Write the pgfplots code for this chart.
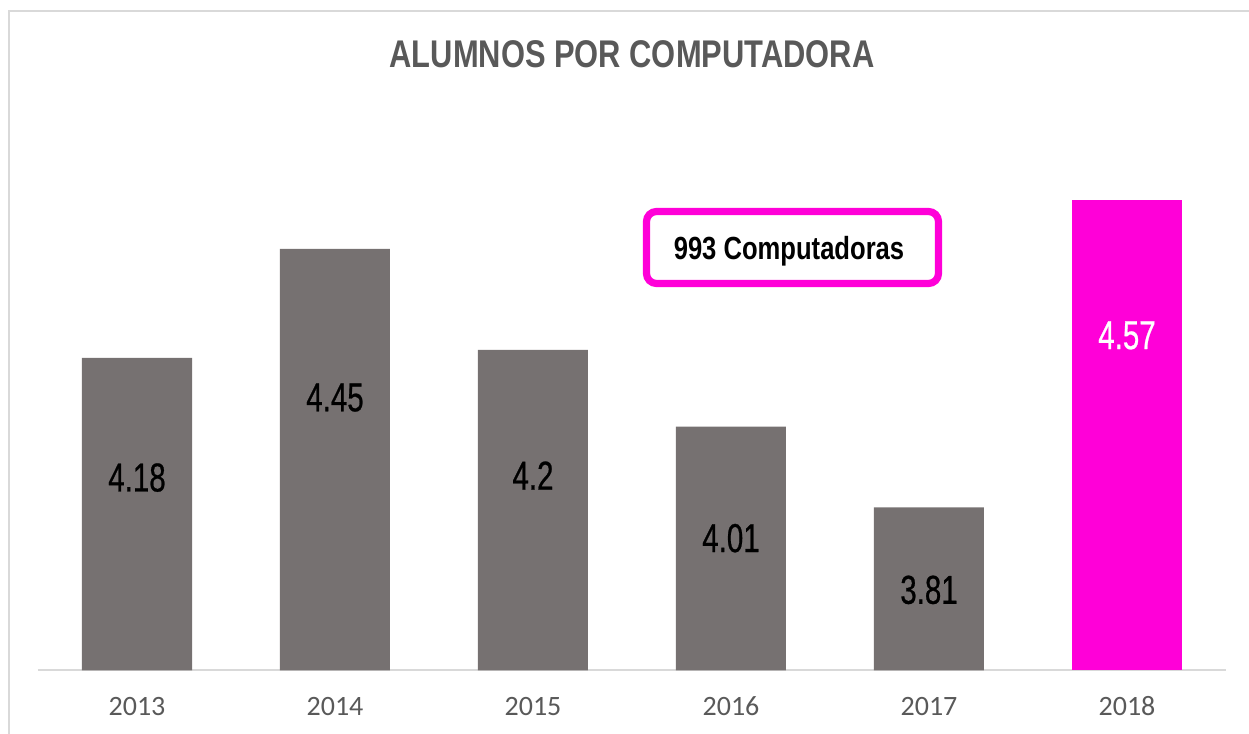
\documentclass[border=0pt]{standalone}
\usepackage{pgfplots}
\pgfplotsset{compat=1.18}
\usepackage{fontspec}
\setmainfont{Liberation Sans}
\newfontfamily\narrow[FakeStretch=0.80]{Liberation Sans}
\newfontfamily\narrowlab[FakeStretch=0.73, FakeBold=0.6]{Liberation Sans}
\newfontfamily\calib{Carlito}
\definecolor{barGray}{HTML}{767171}
\definecolor{barPink}{HTML}{FF00D8}
\definecolor{txtGray}{HTML}{595959}
\definecolor{lineGray}{HTML}{D9D9D9}
\begin{document}
\begin{tikzpicture}[x=0.5pt,y=0.5pt]
\useasboundingbox (0,0) rectangle (1249,734);
\draw[lineGray, line width=1.2pt] (9,-10) -- (9,723) -- (1255,723);
\begin{axis}[
  at={(19pt,31.75pt)}, anchor=south west,
  scale only axis,
  width=594pt, height=241.1pt,
  xmin=-0.5, xmax=5.5,
  ymin=3.4065, ymax=4.6,
  axis y line=none,
  axis x line*=bottom,
  x axis line style={draw=lineGray, line width=1pt, -},
  xtick={0,1,2,3,4,5},
  xticklabels={2013,2014,2015,2016,2017,2018},
  major tick length=0pt,
  xticklabel style={font=\calib\fontsize{14}{16}\selectfont, text=txtGray, anchor=base, inner sep=0pt, yshift=-22.6pt},
  clip=false,
]
\addplot[ybar, bar width=55pt, bar shift=0pt, fill=barGray, draw=none]
  coordinates {(0,4.18) (1,4.45) (2,4.2) (3,4.01) (4,3.81)};
\addplot[ybar, bar width=55pt, bar shift=0pt, fill=barPink, draw=none]
  coordinates {(5,4.57)};
\addplot[draw=none, mark=none, nodes near coords, point meta=explicit symbolic,
  every node near coord/.style={anchor=center, inner sep=0pt, font=\narrowlab\fontsize{20.2}{22}\selectfont, text=black}]
  coordinates {(0,3.884)[4.18] (1,4.082)[4.45] (2,3.889)[4.2] (3,3.734)[4.01] (4,3.606)[3.81]};
\addplot[draw=none, mark=none, nodes near coords, point meta=explicit symbolic,
  every node near coord/.style={anchor=center, inner sep=0pt, font=\narrowlab\fontsize{20.2}{22}\selectfont, text=white}]
  coordinates {(5,4.236)[4.57]};
\end{axis}
\node[anchor=base, text=txtGray, font=\narrow\bfseries\fontsize{19.3}{22}\selectfont, inner sep=0pt] at (632,666) {ALUMNOS POR COMPUTADORA};
\draw[barPink, line width=3.6pt, rounded corners=5pt] (646.5,522.5) rectangle (938.5,450.5);
\node[anchor=base, text=black, font=\narrow\bfseries\fontsize{16}{18}\selectfont, inner sep=0pt] at (789,474) {993 Computadoras};
\end{tikzpicture}
\end{document}
